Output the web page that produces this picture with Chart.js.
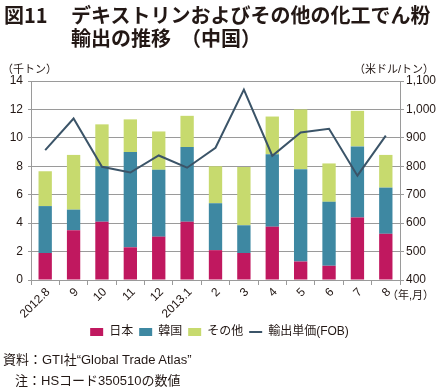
<!DOCTYPE html>
<html>
<head>
<meta charset="utf-8">
<script src="https://cdn.jsdelivr.net/npm/chart.js@4/dist/chart.umd.min.js"></script>
<style>
body{margin:0;background:#fff;font-family:"Liberation Sans","Noto Sans CJK JP",sans-serif;color:#231815;}
#wrap{position:relative;width:439px;height:388px;overflow:hidden;}
#c{position:absolute;left:0;top:0;}
.t{position:absolute;white-space:nowrap;}
.title{font-family:"Noto Sans CJK JP",sans-serif;font-weight:700;font-size:20px;line-height:23px;}
.small{font-size:11px;font-family:"Liberation Sans","Noto Sans CJK JP",sans-serif;}
.note{font-size:13px;font-family:"Liberation Sans","Noto Sans CJK JP",sans-serif;}
</style>
</head>
<body>
<div id="wrap">
<canvas id="c" width="439" height="388"></canvas>
<div class="t title" style="left:4px;top:3px;">図11</div>
<div class="t title" style="left:71px;top:3px;">デキストリンおよびその他の化工でん粉</div>
<div class="t title" style="left:71px;top:26px;">輸出の推移　（中国）</div>
<div class="t small" style="left:2px;top:60px;">（千トン）</div>
<div class="t small" style="right:5px;top:60px;">（米ドル/トン）</div>
<div class="t small" style="right:5px;top:286px;">（年,月）</div>
<div class="t note" style="left:3px;top:349px;">資料：GTI社“Global Trade Atlas”</div>
<div class="t note" style="left:15px;top:370px;">注：HSコード350510の数値</div>
</div>
<script>
// 月ラベル
var labels = ['2012.8','9','10','11','12','2013.1','2','3','4','5','6','7','8'];
// 輸出量（千トン）
var japan = [1.9, 3.5, 4.1, 2.3, 3.05, 4.1, 2.1, 1.9, 3.75, 1.3, 1.0, 4.4, 3.25];
var korea = [3.3, 1.45, 3.9, 6.7, 4.7, 5.25, 3.3, 1.95, 5.1, 6.5, 4.5, 5.0, 3.25];
var other = [2.45, 3.85, 2.95, 2.3, 2.7, 2.2, 2.6, 4.1, 2.65, 4.2, 2.7, 2.5, 2.3];
// 輸出単価（米ドル/トン）
var price = [857, 968, 798, 778, 838, 795, 865, 1070, 837, 919, 932, 767, 908];

var gridColor = '#9a9a9a';
var textColor = '#231815';
var fontFamily = '"Liberation Sans","Noto Sans CJK JP",sans-serif';

var ctx = document.getElementById('c').getContext('2d');
var myChart = new Chart(ctx, {
    data: {
        labels: labels,
        datasets: [{
            type: 'bar', label: '日本', data: japan, yAxisID: 'y',
            backgroundColor: '#c0185f', order: 1
        }, {
            type: 'bar', label: '韓国', data: korea, yAxisID: 'y',
            backgroundColor: '#3e88a2', order: 1
        }, {
            type: 'bar', label: 'その他', data: other, yAxisID: 'y',
            backgroundColor: '#c7da6e', order: 1
        }, {
            type: 'line', label: '輸出単価(FOB)', data: price, yAxisID: 'y1',
            borderColor: '#3b5468', backgroundColor: '#3b5468',
            borderWidth: 2, pointRadius: 0, tension: 0, order: 0
        }]
    },
    options: {
        responsive: false,
        animation: false,
        layout: {padding: {top: 81, left: 0, right: 0, bottom: 40}},
        datasets: {bar: {categoryPercentage: 1, barPercentage: 0.47}},
        plugins: {
            title: {display: false},
            tooltip: {enabled: false},
            legend: {
                position: 'bottom',
                labels: {
                    color: textColor,
                    font: {family: fontFamily, size: 12},
                    usePointStyle: true,
                    pointStyleWidth: 13,
                    boxHeight: 8,
                    padding: 6,
                    generateLabels: function(chart){
                        var items = Chart.defaults.plugins.legend.labels.generateLabels(chart);
                        items.sort(function(a, b){ return a.datasetIndex - b.datasetIndex; });
                        items.forEach(function(it){
                            it.pointStyle = (it.datasetIndex === 3) ? 'line' : 'rect';
                        });
                        return items;
                    }
                }
            }
        },
        scales: {
            x: {
                stacked: true,
                grid: {drawOnChartArea: false, drawTicks: true, tickLength: 5, offset: true, color: gridColor},
                border: {color: gridColor, width: 1},
                ticks: {color: textColor, font: {family: fontFamily, size: 12}, maxRotation: 45, minRotation: 45, padding: 0, labelOffset: 3, autoSkip: false},
                afterFit: function(s){ s.height = 40; }
            },
            y: {
                stacked: true, position: 'left', min: 0, max: 14,
                grid: {color: gridColor, drawTicks: true, tickLength: 3},
                border: {color: gridColor, width: 1},
                ticks: {stepSize: 2, color: textColor, font: {family: fontFamily, size: 12}, padding: 5},
                afterFit: function(s){ s.width = 31; }
            },
            y1: {
                position: 'right', min: 400, max: 1100,
                grid: {drawOnChartArea: false, drawTicks: true, tickLength: 4, color: gridColor},
                border: {color: gridColor, width: 1},
                ticks: {stepSize: 100, color: textColor, font: {family: fontFamily, size: 12}, padding: 2},
                afterFit: function(s){ s.width = 39; }
            }
        }
    }
});
</script>
</body>
</html>
